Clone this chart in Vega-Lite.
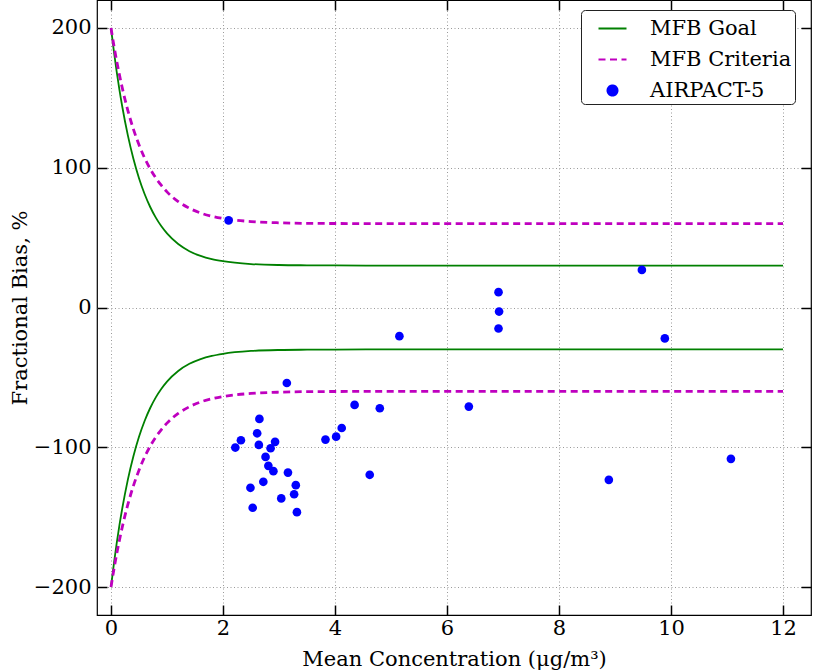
{
  "$schema": "https://vega.github.io/schema/vega-lite/v6.json",
  "width": 714,
  "height": 615,
  "autosize": {"type": "none"},
  "padding": {"left": 97, "top": 0, "right": 2, "bottom": 56},
  "background": "white",
  "config": {
    "font": "DejaVu Serif",
    "view": {"stroke": "#000", "strokeWidth": 1.2},
    "axis": {
      "labelFont": "DejaVu Serif",
      "titleFont": "DejaVu Serif",
      "labelFontSize": 21,
      "titleFontSize": 21,
      "labelColor": "#000",
      "titleColor": "#000",
      "titleFontWeight": "normal",
      "tickColor": "#000",
      "tickWidth": 1.5,
      "tickSize": -10,
      "domain": false,
      "gridColor": "#9a9a9a",
      "gridDash": [1, 2.5],
      "gridWidth": 1
    },
    "legend": {"labelFont": "DejaVu Serif"},
    "style": {"guide-label": {"font": "DejaVu Serif"}, "guide-title": {"font": "DejaVu Serif"}}
  },
  "datasets": {
    "goal": [
      {"s": "MFB Goal", "b": "u", "C": 0, "V": 200},
      {"s": "MFB Goal", "b": "u", "C": 0.05, "V": 183.8},
      {"s": "MFB Goal", "b": "u", "C": 0.1, "V": 169.2},
      {"s": "MFB Goal", "b": "u", "C": 0.15, "V": 155.9},
      {"s": "MFB Goal", "b": "u", "C": 0.2, "V": 144.0},
      {"s": "MFB Goal", "b": "u", "C": 0.3, "V": 123.3},
      {"s": "MFB Goal", "b": "u", "C": 0.4, "V": 106.4},
      {"s": "MFB Goal", "b": "u", "C": 0.5, "V": 92.5},
      {"s": "MFB Goal", "b": "u", "C": 0.6, "V": 81.2},
      {"s": "MFB Goal", "b": "u", "C": 0.7, "V": 71.9},
      {"s": "MFB Goal", "b": "u", "C": 0.8, "V": 64.3},
      {"s": "MFB Goal", "b": "u", "C": 0.9, "V": 58.1},
      {"s": "MFB Goal", "b": "u", "C": 1.0, "V": 53.0},
      {"s": "MFB Goal", "b": "u", "C": 1.2, "V": 45.4},
      {"s": "MFB Goal", "b": "u", "C": 1.4, "V": 40.3},
      {"s": "MFB Goal", "b": "u", "C": 1.6, "V": 36.9},
      {"s": "MFB Goal", "b": "u", "C": 1.8, "V": 34.6},
      {"s": "MFB Goal", "b": "u", "C": 2.0, "V": 33.1},
      {"s": "MFB Goal", "b": "u", "C": 2.5, "V": 31.1},
      {"s": "MFB Goal", "b": "u", "C": 3.0, "V": 30.4},
      {"s": "MFB Goal", "b": "u", "C": 3.5, "V": 30.2},
      {"s": "MFB Goal", "b": "u", "C": 4.0, "V": 30.1},
      {"s": "MFB Goal", "b": "u", "C": 5.0, "V": 30.0},
      {"s": "MFB Goal", "b": "u", "C": 12.0, "V": 30.0},
      {"s": "MFB Goal", "b": "l", "C": 0, "V": -200},
      {"s": "MFB Goal", "b": "l", "C": 0.05, "V": -183.8},
      {"s": "MFB Goal", "b": "l", "C": 0.1, "V": -169.2},
      {"s": "MFB Goal", "b": "l", "C": 0.15, "V": -155.9},
      {"s": "MFB Goal", "b": "l", "C": 0.2, "V": -144.0},
      {"s": "MFB Goal", "b": "l", "C": 0.3, "V": -123.3},
      {"s": "MFB Goal", "b": "l", "C": 0.4, "V": -106.4},
      {"s": "MFB Goal", "b": "l", "C": 0.5, "V": -92.5},
      {"s": "MFB Goal", "b": "l", "C": 0.6, "V": -81.2},
      {"s": "MFB Goal", "b": "l", "C": 0.7, "V": -71.9},
      {"s": "MFB Goal", "b": "l", "C": 0.8, "V": -64.3},
      {"s": "MFB Goal", "b": "l", "C": 0.9, "V": -58.1},
      {"s": "MFB Goal", "b": "l", "C": 1.0, "V": -53.0},
      {"s": "MFB Goal", "b": "l", "C": 1.2, "V": -45.4},
      {"s": "MFB Goal", "b": "l", "C": 1.4, "V": -40.3},
      {"s": "MFB Goal", "b": "l", "C": 1.6, "V": -36.9},
      {"s": "MFB Goal", "b": "l", "C": 1.8, "V": -34.6},
      {"s": "MFB Goal", "b": "l", "C": 2.0, "V": -33.1},
      {"s": "MFB Goal", "b": "l", "C": 2.5, "V": -31.1},
      {"s": "MFB Goal", "b": "l", "C": 3.0, "V": -30.4},
      {"s": "MFB Goal", "b": "l", "C": 3.5, "V": -30.2},
      {"s": "MFB Goal", "b": "l", "C": 4.0, "V": -30.1},
      {"s": "MFB Goal", "b": "l", "C": 5.0, "V": -30.0},
      {"s": "MFB Goal", "b": "l", "C": 12.0, "V": -30.0}
    ],
    "crit": [
      {"s": "MFB Criteria", "b": "u", "C": 0, "V": 200},
      {"s": "MFB Criteria", "b": "u", "C": 0.05, "V": 187.8},
      {"s": "MFB Criteria", "b": "u", "C": 0.1, "V": 176.7},
      {"s": "MFB Criteria", "b": "u", "C": 0.15, "V": 166.6},
      {"s": "MFB Criteria", "b": "u", "C": 0.2, "V": 157.3},
      {"s": "MFB Criteria", "b": "u", "C": 0.3, "V": 141.1},
      {"s": "MFB Criteria", "b": "u", "C": 0.4, "V": 127.6},
      {"s": "MFB Criteria", "b": "u", "C": 0.5, "V": 116.4},
      {"s": "MFB Criteria", "b": "u", "C": 0.6, "V": 107.0},
      {"s": "MFB Criteria", "b": "u", "C": 0.7, "V": 99.2},
      {"s": "MFB Criteria", "b": "u", "C": 0.8, "V": 92.7},
      {"s": "MFB Criteria", "b": "u", "C": 0.9, "V": 87.3},
      {"s": "MFB Criteria", "b": "u", "C": 1.0, "V": 82.7},
      {"s": "MFB Criteria", "b": "u", "C": 1.2, "V": 75.8},
      {"s": "MFB Criteria", "b": "u", "C": 1.4, "V": 71.0},
      {"s": "MFB Criteria", "b": "u", "C": 1.6, "V": 67.6},
      {"s": "MFB Criteria", "b": "u", "C": 1.8, "V": 65.3},
      {"s": "MFB Criteria", "b": "u", "C": 2.0, "V": 63.7},
      {"s": "MFB Criteria", "b": "u", "C": 2.5, "V": 61.5},
      {"s": "MFB Criteria", "b": "u", "C": 3.0, "V": 60.6},
      {"s": "MFB Criteria", "b": "u", "C": 3.5, "V": 60.2},
      {"s": "MFB Criteria", "b": "u", "C": 4.0, "V": 60.1},
      {"s": "MFB Criteria", "b": "u", "C": 5.0, "V": 60.0},
      {"s": "MFB Criteria", "b": "u", "C": 12.0, "V": 60.0},
      {"s": "MFB Criteria", "b": "l", "C": 0, "V": -200},
      {"s": "MFB Criteria", "b": "l", "C": 0.05, "V": -187.8},
      {"s": "MFB Criteria", "b": "l", "C": 0.1, "V": -176.7},
      {"s": "MFB Criteria", "b": "l", "C": 0.15, "V": -166.6},
      {"s": "MFB Criteria", "b": "l", "C": 0.2, "V": -157.3},
      {"s": "MFB Criteria", "b": "l", "C": 0.3, "V": -141.1},
      {"s": "MFB Criteria", "b": "l", "C": 0.4, "V": -127.6},
      {"s": "MFB Criteria", "b": "l", "C": 0.5, "V": -116.4},
      {"s": "MFB Criteria", "b": "l", "C": 0.6, "V": -107.0},
      {"s": "MFB Criteria", "b": "l", "C": 0.7, "V": -99.2},
      {"s": "MFB Criteria", "b": "l", "C": 0.8, "V": -92.7},
      {"s": "MFB Criteria", "b": "l", "C": 0.9, "V": -87.3},
      {"s": "MFB Criteria", "b": "l", "C": 1.0, "V": -82.7},
      {"s": "MFB Criteria", "b": "l", "C": 1.2, "V": -75.8},
      {"s": "MFB Criteria", "b": "l", "C": 1.4, "V": -71.0},
      {"s": "MFB Criteria", "b": "l", "C": 1.6, "V": -67.6},
      {"s": "MFB Criteria", "b": "l", "C": 1.8, "V": -65.3},
      {"s": "MFB Criteria", "b": "l", "C": 2.0, "V": -63.7},
      {"s": "MFB Criteria", "b": "l", "C": 2.5, "V": -61.5},
      {"s": "MFB Criteria", "b": "l", "C": 3.0, "V": -60.6},
      {"s": "MFB Criteria", "b": "l", "C": 3.5, "V": -60.2},
      {"s": "MFB Criteria", "b": "l", "C": 4.0, "V": -60.1},
      {"s": "MFB Criteria", "b": "l", "C": 5.0, "V": -60.0},
      {"s": "MFB Criteria", "b": "l", "C": 12.0, "V": -60.0}
    ],
    "pts": [
      {"s": "AIRPACT-5", "C": 2.10, "V": 62.3},
      {"s": "AIRPACT-5", "C": 2.22, "V": -100.2},
      {"s": "AIRPACT-5", "C": 2.32, "V": -95.0},
      {"s": "AIRPACT-5", "C": 2.49, "V": -129.0},
      {"s": "AIRPACT-5", "C": 2.53, "V": -143.3},
      {"s": "AIRPACT-5", "C": 2.61, "V": -90.0},
      {"s": "AIRPACT-5", "C": 2.64, "V": -98.3},
      {"s": "AIRPACT-5", "C": 2.65, "V": -79.7},
      {"s": "AIRPACT-5", "C": 2.72, "V": -124.7},
      {"s": "AIRPACT-5", "C": 2.76, "V": -106.9},
      {"s": "AIRPACT-5", "C": 2.81, "V": -113.3},
      {"s": "AIRPACT-5", "C": 2.85, "V": -100.7},
      {"s": "AIRPACT-5", "C": 2.90, "V": -117.1},
      {"s": "AIRPACT-5", "C": 2.93, "V": -96.1},
      {"s": "AIRPACT-5", "C": 3.04, "V": -136.6},
      {"s": "AIRPACT-5", "C": 3.14, "V": -54.0},
      {"s": "AIRPACT-5", "C": 3.16, "V": -118.1},
      {"s": "AIRPACT-5", "C": 3.27, "V": -133.6},
      {"s": "AIRPACT-5", "C": 3.30, "V": -127.1},
      {"s": "AIRPACT-5", "C": 3.32, "V": -146.4},
      {"s": "AIRPACT-5", "C": 3.83, "V": -94.5},
      {"s": "AIRPACT-5", "C": 4.02, "V": -92.4},
      {"s": "AIRPACT-5", "C": 4.12, "V": -86.2},
      {"s": "AIRPACT-5", "C": 4.35, "V": -69.7},
      {"s": "AIRPACT-5", "C": 4.62, "V": -119.7},
      {"s": "AIRPACT-5", "C": 4.80, "V": -72.1},
      {"s": "AIRPACT-5", "C": 5.15, "V": -20.5},
      {"s": "AIRPACT-5", "C": 6.39, "V": -70.9},
      {"s": "AIRPACT-5", "C": 6.92, "V": 11.0},
      {"s": "AIRPACT-5", "C": 6.93, "V": -2.9},
      {"s": "AIRPACT-5", "C": 6.92, "V": -15.0},
      {"s": "AIRPACT-5", "C": 8.89, "V": -123.3},
      {"s": "AIRPACT-5", "C": 9.48, "V": 26.9},
      {"s": "AIRPACT-5", "C": 9.89, "V": -22.1},
      {"s": "AIRPACT-5", "C": 11.07, "V": -108.3}
    ]
  },
  "layer": [
    {
      "data": {"name": "goal"},
      "mark": {"type": "line", "interpolate": "monotone", "strokeWidth": 1.8},
      "encoding": {
        "x": {
          "field": "C", "type": "quantitative",
          "scale": {"domain": [-0.25, 12.5], "nice": false, "zero": false},
          "axis": {
            "orient": "bottom", "values": [0, 2, 4, 6, 8, 10, 12], "grid": true,
            "labelFont": "DejaVu Serif", "labelFontSize": 21, "titleFont": "DejaVu Serif", "titleFontSize": 21,
            "labelPadding": 12, "title": "Mean Concentration (μg/m³)",
            "titleX": 357, "titleY": 44, "titleBaseline": "middle", "titleAlign": "center"
          }
        },
        "y": {
          "field": "V", "type": "quantitative",
          "scale": {"domain": [-220, 220], "nice": false, "zero": false},
          "axis": {
            "orient": "left", "values": [-200, -100, 0, 100, 200], "grid": true,
            "labelFont": "DejaVu Serif", "labelFontSize": 21, "titleFont": "DejaVu Serif", "titleFontSize": 21,
            "labelPadding": 16, "title": "Fractional Bias, %",
            "titleX": -77, "titleY": 307.5, "titleBaseline": "middle", "titleAlign": "center"
          }
        },
        "color": {
          "field": "s", "type": "nominal",
          "scale": {"domain": ["MFB Goal", "MFB Criteria", "AIRPACT-5"], "range": ["#008000", "#bf00bf", "#0000ff"]},
          "legend": {
            "title": null, "orient": "none", "legendX": 484, "legendY": 10,
            "padding": 3, "symbolSize": 784, "symbolStrokeWidth": 2.2, "rowPadding": 5,
            "symbolOffset": 13, "labelOffset": 22, "labelFont": "DejaVu Serif", "labelFontSize": 21,
            "labelColor": "#000", "fillColor": "white", "strokeColor": "#222", "cornerRadius": 4,
            "encode": {
              "symbols": {
                "update": {
                  "shape": [{"test": "datum.value === 'AIRPACT-5'", "value": "M -0.35,0 A 0.35,0.35 0 1,0 0.35,0 A 0.35,0.35 0 1,0 -0.35,0 Z"}, {"value": "stroke"}],
                  "strokeDash": [{"test": "datum.value === 'MFB Criteria'", "value": [7, 4.5]}, {"value": [1, 0]}],
                  "fill": [{"test": "datum.value === 'AIRPACT-5'", "value": "#0000ff"}, {"value": "transparent"}],
                  "stroke": [{"test": "datum.value === 'MFB Goal'", "value": "#008000"}, {"test": "datum.value === 'MFB Criteria'", "value": "#bf00bf"}, {"value": "transparent"}]
                }
              }
            }
          }
        },
        "detail": {"field": "b"}
      }
    },
    {
      "data": {"name": "crit"},
      "mark": {"type": "line", "interpolate": "monotone", "strokeWidth": 2.8, "strokeDash": [7, 4.5]},
      "encoding": {
        "x": {"field": "C", "type": "quantitative", "axis": null},
        "y": {"field": "V", "type": "quantitative", "axis": null},
        "color": {"field": "s", "type": "nominal"},
        "detail": {"field": "b"}
      }
    },
    {
      "data": {"name": "pts"},
      "mark": {"type": "circle", "size": 75, "opacity": 1},
      "encoding": {
        "x": {
          "field": "C", "type": "quantitative",
          "axis": {"orient": "top", "values": [0, 2, 4, 6, 8, 10, 12], "labels": false, "grid": false, "title": null}
        },
        "y": {
          "field": "V", "type": "quantitative",
          "axis": {"orient": "right", "values": [-200, -100, 0, 100, 200], "labels": false, "grid": false, "title": null}
        },
        "color": {"field": "s", "type": "nominal"}
      }
    }
  ],
  "resolve": {"axis": {"x": "independent", "y": "independent"}}
}
